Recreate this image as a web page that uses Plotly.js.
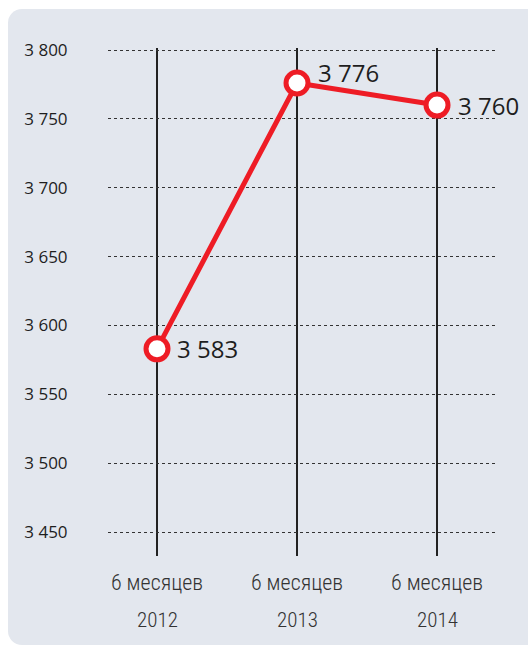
<!DOCTYPE html>
<html>
<head>
<meta charset="utf-8">
<script src="https://cdn.plot.ly/plotly-3.0.1.min.js"></script>
<style>
  html, body { margin:0; padding:0; background:#ffffff; }
  #wrap { position:relative; width:528px; height:649px; }
  #panel { position:absolute; left:8px; top:9px; right:0; bottom:4px; background:#e3e7ee; border-radius:14px 0 0 14px; }
  #chart { position:absolute; left:0; top:0; width:528px; height:649px; }
</style>
</head>
<body>
<div id="wrap"><div id="panel"></div><div id="chart"></div></div>
<script>
const categories = [0, 1, 2];
const periodLabels = ["6 месяцев", "6 месяцев", "6 месяцев"];
const years = ["2012", "2013", "2014"];
const values = [3583, 3776, 3760];
const valueLabels = ["3 583", "3 776", "3 760"];
const yTickVals = [3450, 3500, 3550, 3600, 3650, 3700, 3750, 3800];
const yTickText = ["3 450", "3 500", "3 550", "3 600", "3 650", "3 700", "3 750", "3 800"];

const red = "#ee1c25";
const condensed = "Liberation Sans Narrow, Roboto Condensed, DejaVu Sans Condensed, Roboto, sans-serif";

const trace = {
  x: categories, y: values, type: "scatter", mode: "lines+markers",
  line: { color: red, width: 5 },
  marker: { size: 22, color: "#ffffff", line: { color: red, width: 5 } },
  hoverinfo: "none", cliponaxis: false
};

const labelShift = [[18, 0], [19, 11], [19, 0]];
const annotations = [];
categories.forEach((c, i) => {
  annotations.push({
    x: c, y: values[i], xref: "x", yref: "y", text: valueLabels[i],
    showarrow: false, xanchor: "left", yanchor: "middle",
    xshift: labelShift[i][0], yshift: labelShift[i][1],
    font: { family: "Open Sans, sans-serif", size: 24, color: "#1e1e1e" }
  });
  annotations.push({
    x: c, y: 0, xref: "x", yref: "paper", text: years[i],
    showarrow: false, xanchor: "center", yanchor: "middle", yshift: -64,
    font: { family: condensed, size: 21, color: "#333333", weight: 300 }
  });
});

const layout = {
  width: 528, height: 649,
  margin: { l: 108, r: 33, t: 48, b: 93 },
  paper_bgcolor: "rgba(0,0,0,0)", plot_bgcolor: "rgba(0,0,0,0)",
  showlegend: false,
  xaxis: {
    range: [-0.35, 2.414], tickvals: categories, ticktext: periodLabels,
    showgrid: true, gridcolor: "#222222", gridwidth: 1.5, zeroline: false, showline: false,
    ticks: "outside", ticklen: 7, tickcolor: "rgba(0,0,0,0)",
    tickfont: { family: condensed, size: 22, color: "#333333", weight: 300 },
    fixedrange: true
  },
  yaxis: {
    range: [3432.6, 3801.45], tickvals: yTickVals, ticktext: yTickText,
    showgrid: true, gridcolor: "#333333", gridwidth: 1, griddash: "dot", zeroline: false, showline: false,
    ticks: "outside", ticklen: 36, tickcolor: "rgba(0,0,0,0)",
    tickfont: { family: "Open Sans, sans-serif", size: 17, color: "#1e1e1e" },
    fixedrange: true
  },
  annotations: annotations
};

Plotly.newPlot("chart", [trace], layout, { staticPlot: true, displayModeBar: false });
</script>
</body>
</html>
